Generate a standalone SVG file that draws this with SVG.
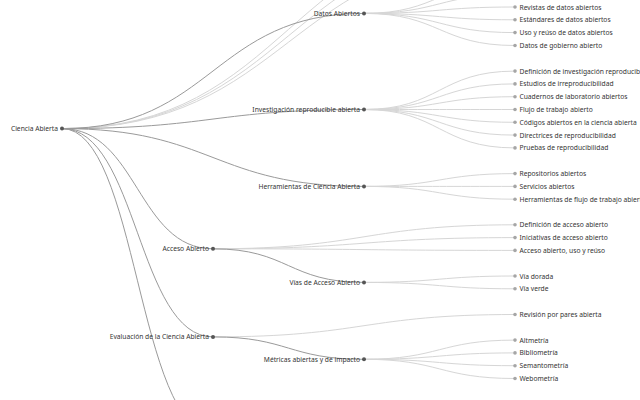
<svg xmlns="http://www.w3.org/2000/svg" width="640" height="400" viewBox="0 0 640 400">
<style>
  .lk { fill: none; stroke-width: 1; }
  .li { stroke: #9a9a9a; }
  .ll { stroke: #d6d6d6; }
  text { font-family: "Noto Sans", "Open Sans", sans-serif; font-size: 6.7px; fill: #333; dominant-baseline: central; }
  .n circle { fill: #555; }
  .lf circle { fill: #a6a6a6; }
  .n text { text-anchor: end; }
</style>
<rect width="640" height="400" fill="#fff"/>
<g id="connectors" class="lk">
  <!-- root to leaves above -->
  <path class="ll" d="M62,128.6C288.5,128.6 288.5,-44.2 515,-44.2"/>
  <path class="ll" d="M62,128.6C288.5,128.6 288.5,-57 515,-57"/>
  <path class="ll" d="M62,128.6C288.5,128.6 288.5,-69.8 515,-69.8"/>
  <!-- root to internal -->
  <path class="li" d="M62,128.6C213,128.6 213,13.4 364,13.4"/>
  <path class="li" d="M62,128.6C213,128.6 213,109.5 364,109.5"/>
  <path class="li" d="M62,128.6C213,128.6 213,186.4 364,186.4"/>
  <path class="li" d="M62,128.6C137.5,128.6 137.5,248.8 213,248.8"/>
  <path class="li" d="M62,128.6C137.5,128.6 137.5,336.9 213,336.9"/>
  <path class="li" d="M62,128.6C137.5,128.6 137.5,433 213,433"/>
  <!-- Datos Abiertos -->
  <path class="ll" d="M364,13.4C439.5,13.4 439.5,-18.6 515,-18.6"/>
  <path class="ll" d="M364,13.4C439.5,13.4 439.5,-5.8 515,-5.8"/>
  <path class="ll" d="M364,13.4C439.5,13.4 439.5,7 515,7"/>
  <path class="ll" d="M364,13.4C439.5,13.4 439.5,19.8 515,19.8"/>
  <path class="ll" d="M364,13.4C439.5,13.4 439.5,32.6 515,32.6"/>
  <path class="ll" d="M364,13.4C439.5,13.4 439.5,45.5 515,45.5"/>
  <!-- Investigación -->
  <path class="ll" d="M364,109.5C439.5,109.5 439.5,71.1 515,71.1"/>
  <path class="ll" d="M364,109.5C439.5,109.5 439.5,83.9 515,83.9"/>
  <path class="ll" d="M364,109.5C439.5,109.5 439.5,96.7 515,96.7"/>
  <path class="ll" d="M364,109.5C439.5,109.5 439.5,109.5 515,109.5"/>
  <path class="ll" d="M364,109.5C439.5,109.5 439.5,122.3 515,122.3"/>
  <path class="ll" d="M364,109.5C439.5,109.5 439.5,135.1 515,135.1"/>
  <path class="ll" d="M364,109.5C439.5,109.5 439.5,147.9 515,147.9"/>
  <!-- Herramientas -->
  <path class="ll" d="M364,186.4C439.5,186.4 439.5,173.6 515,173.6"/>
  <path class="ll" d="M364,186.4C439.5,186.4 439.5,186.4 515,186.4"/>
  <path class="ll" d="M364,186.4C439.5,186.4 439.5,199.2 515,199.2"/>
  <!-- Acceso Abierto -->
  <path class="ll" d="M213,248.8C364,248.8 364,224.8 515,224.8"/>
  <path class="ll" d="M213,248.8C364,248.8 364,237.6 515,237.6"/>
  <path class="ll" d="M213,248.8C364,248.8 364,250.4 515,250.4"/>
  <path class="li" d="M213,248.8C288.5,248.8 288.5,282.4 364,282.4"/>
  <!-- Vías -->
  <path class="ll" d="M364,282.4C439.5,282.4 439.5,276 515,276"/>
  <path class="ll" d="M364,282.4C439.5,282.4 439.5,288.8 515,288.8"/>
  <!-- Evaluación -->
  <path class="ll" d="M213,336.9C364,336.9 364,314.5 515,314.5"/>
  <path class="li" d="M213,336.9C288.5,336.9 288.5,359.3 364,359.3"/>
  <!-- Métricas -->
  <path class="ll" d="M364,359.3C439.5,359.3 439.5,340.1 515,340.1"/>
  <path class="ll" d="M364,359.3C439.5,359.3 439.5,352.9 515,352.9"/>
  <path class="ll" d="M364,359.3C439.5,359.3 439.5,365.7 515,365.7"/>
  <path class="ll" d="M364,359.3C439.5,359.3 439.5,378.5 515,378.5"/>
</g>
<g id="n-root" class="n"><circle cx="62" cy="128.6" r="2"/><text x="58" y="128.6">Ciencia Abierta</text></g>
<g id="n-datos" class="n"><circle cx="364" cy="13.4" r="2"/><text x="360" y="13.4">Datos Abiertos</text></g>
<g id="n-inv" class="n"><circle cx="364" cy="109.5" r="2"/><text x="360" y="109.5">Investigación reproducible abierta</text></g>
<g id="n-herr" class="n"><circle cx="364" cy="186.4" r="2"/><text x="360" y="186.4">Herramientas de Ciencia Abierta</text></g>
<g id="n-acceso" class="n"><circle cx="213" cy="248.8" r="2"/><text x="209" y="248.8">Acceso Abierto</text></g>
<g id="n-vias" class="n"><circle cx="364" cy="282.4" r="2"/><text x="360" y="282.4">Vías de Acceso Abierto</text></g>
<g id="n-eval" class="n"><circle cx="213" cy="336.9" r="2"/><text x="209" y="336.9">Evaluación de la Ciencia Abierta</text></g>
<g id="n-metricas" class="n"><circle cx="364" cy="359.3" r="2"/><text x="360" y="359.3">Métricas abiertas y de impacto</text></g>

<g id="l-revistas" class="lf"><circle cx="515" cy="7" r="1.8"/><text x="519.5" y="7">Revistas de datos abiertos</text></g>
<g id="l-estandares" class="lf"><circle cx="515" cy="19.8" r="1.8"/><text x="519.5" y="19.8">Estándares de datos abiertos</text></g>
<g id="l-uso" class="lf"><circle cx="515" cy="32.6" r="1.8"/><text x="519.5" y="32.6">Uso y reúso de datos abiertos</text></g>
<g id="l-gobierno" class="lf"><circle cx="515" cy="45.5" r="1.8"/><text x="519.5" y="45.5">Datos de gobierno abierto</text></g>

<g id="l-definv" class="lf"><circle cx="515" cy="71.1" r="1.8"/><text x="519.5" y="71.1">Definición de investigación reproducible</text></g>
<g id="l-estudios" class="lf"><circle cx="515" cy="83.9" r="1.8"/><text x="519.5" y="83.9">Estudios de irreproducibilidad</text></g>
<g id="l-cuadernos" class="lf"><circle cx="515" cy="96.7" r="1.8"/><text x="519.5" y="96.7">Cuadernos de laboratorio abiertos</text></g>
<g id="l-flujo" class="lf"><circle cx="515" cy="109.5" r="1.8"/><text x="519.5" y="109.5">Flujo de trabajo abierto</text></g>
<g id="l-codigos" class="lf"><circle cx="515" cy="122.3" r="1.8"/><text x="519.5" y="122.3">Códigos abiertos en la ciencia abierta</text></g>
<g id="l-directrices" class="lf"><circle cx="515" cy="135.1" r="1.8"/><text x="519.5" y="135.1">Directrices de reproducibilidad</text></g>
<g id="l-pruebas" class="lf"><circle cx="515" cy="147.9" r="1.8"/><text x="519.5" y="147.9">Pruebas de reproducibilidad</text></g>

<g id="l-repositorios" class="lf"><circle cx="515" cy="173.6" r="1.8"/><text x="519.5" y="173.6">Repositorios abiertos</text></g>
<g id="l-servicios" class="lf"><circle cx="515" cy="186.4" r="1.8"/><text x="519.5" y="186.4">Servicios abiertos</text></g>
<g id="l-herrflujo" class="lf"><circle cx="515" cy="199.2" r="1.8"/><text x="519.5" y="199.2">Herramientas de flujo de trabajo abierto</text></g>

<g id="l-defacceso" class="lf"><circle cx="515" cy="224.8" r="1.8"/><text x="519.5" y="224.8">Definición de acceso abierto</text></g>
<g id="l-iniciativas" class="lf"><circle cx="515" cy="237.6" r="1.8"/><text x="519.5" y="237.6">Iniciativas de acceso abierto</text></g>
<g id="l-accesouso" class="lf"><circle cx="515" cy="250.4" r="1.8"/><text x="519.5" y="250.4">Acceso abierto, uso y reúso</text></g>

<g id="l-dorada" class="lf"><circle cx="515" cy="276" r="1.8"/><text x="519.5" y="276">Vía dorada</text></g>
<g id="l-verde" class="lf"><circle cx="515" cy="288.8" r="1.8"/><text x="519.5" y="288.8">Vía verde</text></g>

<g id="l-revision" class="lf"><circle cx="515" cy="314.5" r="1.8"/><text x="519.5" y="314.5">Revisión por pares abierta</text></g>

<g id="l-altmetria" class="lf"><circle cx="515" cy="340.1" r="1.8"/><text x="519.5" y="340.1">Altmetría</text></g>
<g id="l-bibliometria" class="lf"><circle cx="515" cy="352.9" r="1.8"/><text x="519.5" y="352.9">Bibliometría</text></g>
<g id="l-semantometria" class="lf"><circle cx="515" cy="365.7" r="1.8"/><text x="519.5" y="365.7">Semantometría</text></g>
<g id="l-webometria" class="lf"><circle cx="515" cy="378.5" r="1.8"/><text x="519.5" y="378.5">Webometría</text></g>
</svg>
